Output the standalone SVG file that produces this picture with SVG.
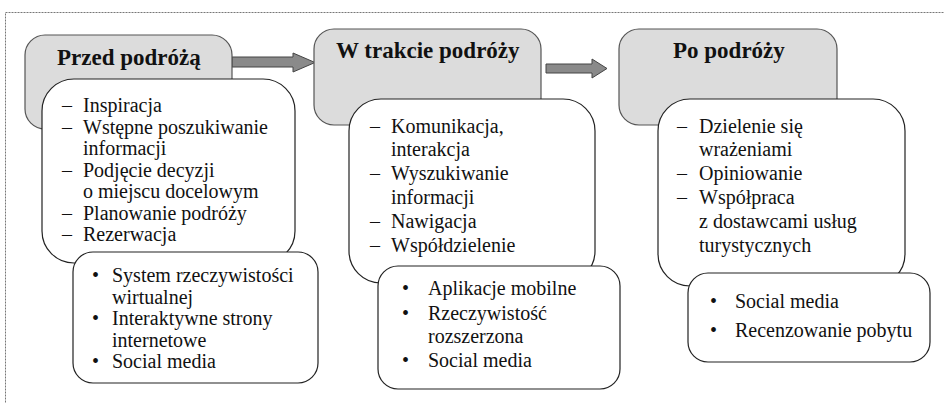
<svg xmlns="http://www.w3.org/2000/svg" width="944" height="403" viewBox="0 0 944 403" font-family="'Liberation Serif', 'Times New Roman', serif">
<style>
.frame{fill:none;stroke:#777;stroke-width:1;stroke-dasharray:2,1}
.head{fill:#dcdcdc;stroke:#555;stroke-width:1.2}
.card{fill:#fff;stroke:#222;stroke-width:1.2}
.arrow{fill:#8a8a8a;stroke:#444;stroke-width:1}
text{font-family:'Liberation Serif','Times New Roman',serif;fill:#111}
.t{font-size:23px;font-weight:bold}
.b{font-size:20px}
</style>
<rect class="frame" x="5.5" y="12.5" width="960" height="420"/>
<g id="connectors">
<polygon class="arrow" points="232,57 293,57 293,53 315,62.5 293,72 293,67 232,67"/>
<polygon class="arrow" points="546,64 592,64 592,59 607,68.5 592,78 592,73 546,73"/>
</g>
<g id="przed">
<rect class="head" x="25" y="35" width="207" height="94" rx="20"/>
<text class="t" x="57" y="65">Przed podróżą</text>
</g>
<g id="przed-lista">
<rect class="card" x="42" y="79" width="253" height="184" rx="32"/>
<g class="b">
<text x="62" y="112">–</text><text x="83" y="112">Inspiracja</text>
<text x="62" y="133.5">–</text><text x="83" y="133.5">Wstępne poszukiwanie</text>
<text x="83" y="155">informacji</text>
<text x="62" y="176.5">–</text><text x="83" y="176.5">Podjęcie decyzji</text>
<text x="83" y="198">o miejscu docelowym</text>
<text x="62" y="219.5">–</text><text x="83" y="219.5">Planowanie podróży</text>
<text x="62" y="241">–</text><text x="83" y="241">Rezerwacja</text>
</g>
</g>
<g id="przed-narzedzia">
<rect class="card" x="73" y="252" width="245" height="131" rx="20"/>
<g class="b">
<text x="92" y="282">•</text><text x="112" y="282">System rzeczywistości</text>
<text x="112" y="303.5">wirtualnej</text>
<text x="92" y="325">•</text><text x="112" y="325">Interaktywne strony</text>
<text x="112" y="346.5">internetowe</text>
<text x="92" y="368">•</text><text x="112" y="368">Social media</text>
</g>
</g>
<g id="w-trakcie">
<rect class="head" x="314" y="29" width="227" height="96" rx="20"/>
<text class="t" x="336" y="58">W trakcie podróży</text>
</g>
<g id="w-trakcie-lista">
<rect class="card" x="349" y="99" width="246" height="184" rx="32"/>
<g class="b">
<text x="370" y="133">–</text><text x="391" y="133">Komunikacja,</text>
<text x="391" y="156">interakcja</text>
<text x="370" y="180">–</text><text x="391" y="180">Wyszukiwanie</text>
<text x="391" y="204">informacji</text>
<text x="370" y="228">–</text><text x="391" y="228">Nawigacja</text>
<text x="370" y="252">–</text><text x="391" y="252">Współdzielenie</text>
</g>
</g>
<g id="w-trakcie-narzedzia">
<rect class="card" x="378" y="266" width="242" height="123" rx="20"/>
<g class="b">
<text x="402" y="295">•</text><text x="428" y="295">Aplikacje mobilne</text>
<text x="402" y="320">•</text><text x="428" y="320">Rzeczywistość</text>
<text x="428" y="343">rozszerzona</text>
<text x="402" y="367">•</text><text x="428" y="367">Social media</text>
</g>
</g>
<g id="po">
<rect class="head" x="619" y="29" width="218" height="96" rx="20"/>
<text class="t" x="673" y="58">Po podróży</text>
</g>
<g id="po-lista">
<rect class="card" x="658" y="99" width="247" height="187" rx="32"/>
<g class="b">
<text x="677" y="133">–</text><text x="699" y="133">Dzielenie się</text>
<text x="699" y="156">wrażeniami</text>
<text x="677" y="180">–</text><text x="699" y="180">Opiniowanie</text>
<text x="677" y="204">–</text><text x="699" y="204">Współpraca</text>
<text x="699" y="228">z dostawcami usług</text>
<text x="699" y="252">turystycznych</text>
</g>
</g>
<g id="po-narzedzia">
<rect class="card" x="688" y="273" width="242" height="89" rx="20"/>
<g class="b">
<text x="710" y="308">•</text><text x="735" y="308">Social media</text>
<text x="710" y="337">•</text><text x="735" y="337">Recenzowanie pobytu</text>
</g>
</g>
</svg>
